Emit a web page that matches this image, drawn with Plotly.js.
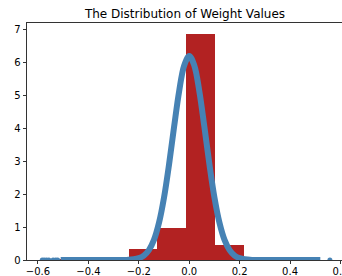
<!DOCTYPE html>
<html>
<head>
<meta charset="utf-8">
<script src="https://cdn.plot.ly/plotly-3.0.1.min.js"></script>
<style>
html,body{margin:0;padding:0;overflow:hidden;background:#fff;width:342px;height:276px;}
#chart{width:344px;height:276px;}
</style>
</head>
<body>
<div id="chart"></div>
<script>
// Histogram bins (density)
const binCenters = [-0.526, -0.412, -0.298, -0.183, -0.069, 0.045, 0.159, 0.273, 0.387, 0.501];
const binWidth = 0.1142;
const binHeights = [0.02, 0.01, 0.02, 0.34, 0.96, 6.88, 0.45, 0.02, 0.01, 0.01];

// Fitted curve
const curveX = [-0.51, -0.45, -0.40, -0.35, -0.30, -0.25, -0.22, -0.20, -0.18, -0.16, -0.14, -0.12, -0.10, -0.08, -0.06, -0.04, -0.02, 0.00, 0.02, 0.04, 0.06, 0.08, 0.10, 0.12, 0.14, 0.16, 0.18, 0.20, 0.22, 0.25, 0.30, 0.35, 0.40, 0.45, 0.52];
const curveY = [0, 0, 0, 0, 0, 0.003, 0.02, 0.055, 0.134, 0.30, 0.61, 1.13, 1.90, 2.91, 4.05, 5.13, 5.91, 6.20, 5.91, 5.13, 4.05, 2.91, 1.90, 1.13, 0.61, 0.30, 0.134, 0.055, 0.02, 0.003, 0, 0, 0, 0, 0];

// Isolated tail points
const tailX = [-0.583, -0.575, -0.566, -0.557, -0.540, -0.530, -0.522, 0.558];
const tailY = [0, 0, 0, 0, 0, 0, 0, 0];

const titleText = "The Distribution of Weight Values";
const xTicks = [-0.6, -0.4, -0.2, 0.0, 0.2, 0.4, 0.6];
const yTicks = [0, 1, 2, 3, 4, 5, 6, 7];

const font = {family: "DejaVu Sans", size: 10, color: "#000"};

const traces = [
  {
    type: "bar",
    x: binCenters,
    y: binHeights,
    width: binCenters.map(() => binWidth),
    marker: {color: "#b22222", line: {width: 0}},
    hoverinfo: "skip"
  },
  {
    type: "scatter",
    mode: "lines",
    x: curveX,
    y: curveY,
    line: {color: "#4682b4", width: 6, shape: "spline"},
    hoverinfo: "skip"
  },
  {
    type: "scatter",
    mode: "markers",
    x: tailX,
    y: tailY,
    marker: {color: "#4682b4", size: 5},
    hoverinfo: "skip"
  }
];

const layout = {
  width: 344,
  height: 276,
  margin: {l: 27, r: 1, t: 23, b: 16, pad: 0},
  paper_bgcolor: "#fff",
  plot_bgcolor: "#fff",
  showlegend: false,
  bargap: 0,
  title: {
    text: titleText,
    font: {family: "DejaVu Sans", size: 12, color: "#000"},
    x: 0.5, xref: "paper", xanchor: "center",
    y: 1 - 14/276, yref: "container", yanchor: "middle"
  },
  xaxis: {
    range: [-0.6436, 0.610],
    tickvals: xTicks,
    ticktext: xTicks.map(v => (v < 0 ? "\u2212" : "") + Math.abs(v).toFixed(1)),
    showgrid: false, zeroline: false,
    showline: true, linecolor: "#000", linewidth: 0.8, mirror: true,
    ticks: "outside", ticklen: 3.5, tickwidth: 0.8, tickcolor: "#000",
    ticklabeloverflow: "allow",
    ticklabelstandoff: -1,
    tickfont: font
  },
  yaxis: {
    range: [0, 7.2],
    tickvals: yTicks,
    showgrid: false, zeroline: false,
    showline: true, linecolor: "#000", linewidth: 0.8,
    ticks: "outside", ticklen: 3.5, tickwidth: 0.8, tickcolor: "#000",
    ticklabeloverflow: "allow",
    tickfont: font
  }
};

Plotly.newPlot("chart", traces, layout, {staticPlot: true, displayModeBar: false});
</script>
</body>
</html>
